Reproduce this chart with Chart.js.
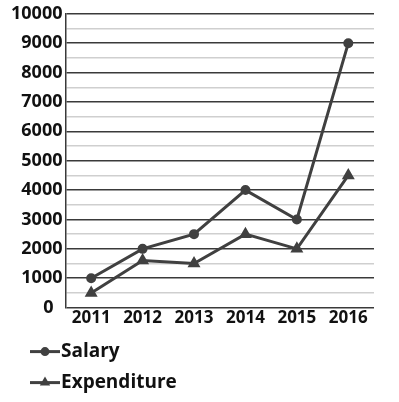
<!DOCTYPE html>
<html>
<head>
<meta charset="utf-8">
<script src="https://cdn.jsdelivr.net/npm/chart.js@4"></script>
<style>
  body { margin: 0; background: #fff; }
  canvas { display: block; }
</style>
</head>
<body>
<canvas id="myChart" width="399" height="402"></canvas>
<script>
'use strict';

// data
const years = ['2011', '2012', '2013', '2014', '2015', '2016'];
const salary = [1000, 2000, 2500, 4000, 3000, 9000];
const expenditure = [500, 1600, 1500, 2500, 2000, 4500];
const seriesNames = ['Salary', 'Expenditure'];

const lineColor = '#404040';
const fontFamily = "'Open Sans', sans-serif";

// legend drawn under the chart, one item per row
const stackedLegend = {
    id: 'stackedLegend',
    afterDraw(chart) {
        const ctx = chart.ctx;
        const top = chart.chartArea.bottom + 44;
        ctx.save();
        chart.data.datasets.forEach((ds, i) => {
            const y = top + i * 31;
            ctx.strokeStyle = ds.borderColor;
            ctx.lineWidth = 3;
            ctx.beginPath();
            ctx.moveTo(30, y);
            ctx.lineTo(60, y);
            ctx.stroke();
            ctx.fillStyle = ds.borderColor;
            Chart.helpers.drawPoint(ctx, {
                pointStyle: ds.pointStyle,
                radius: 3,
                borderWidth: 1,
            }, 45, y);
            ctx.fillStyle = '#111';
            ctx.font = `bold 19px ${fontFamily}`;
            ctx.textAlign = 'left';
            ctx.textBaseline = 'middle';
            ctx.fillText(ds.label, 61, y);
        });
        ctx.restore();
    },
};

const ctx = document.getElementById('myChart').getContext('2d');
const chart = new Chart(ctx, {
    type: 'line',
    data: {
        labels: years,
        datasets: [
            {
                label: seriesNames[0],
                data: salary,
                borderColor: lineColor,
                backgroundColor: lineColor,
                borderWidth: 3,
                pointStyle: 'circle',
                pointRadius: 3.5,
                tension: 0,
            },
            {
                label: seriesNames[1],
                data: expenditure,
                borderColor: lineColor,
                backgroundColor: lineColor,
                borderWidth: 3,
                pointStyle: 'triangle',
                pointRadius: 4.5,
                tension: 0,
            },
        ],
    },
    options: {
        responsive: false,
        animation: false,
        layout: {
            padding: { left: 8, right: 25, top: 4, bottom: 74 },
        },
        plugins: {
            legend: { display: false },
            tooltip: { enabled: false },
        },
        scales: {
            x: {
                offset: true,
                grid: { display: false, drawTicks: false },
                border: { display: false },
                ticks: {
                    color: '#111',
                    padding: 0,
                    maxRotation: 0,
                    font: { family: fontFamily, size: 17, weight: 'bold' },
                },
            },
            y: {
                min: 0,
                max: 10000,
                grid: {
                    drawTicks: false,
                    color: c => (c.tick && c.tick.value % 1000 === 0 ? '#3a3a3a' : '#cfcfcf'),
                    lineWidth: 1.5,
                },
                border: { display: true, color: '#3a3a3a', width: 1.5 },
                ticks: {
                    stepSize: 500,
                    color: '#111',
                    padding: 3,
                    autoSkip: false,
                    font: { family: fontFamily, size: 18, weight: 'bold' },
                    callback: v => {
                        if (v % 1000 !== 0) return '';
                        return v === 0 ? '0\u2002' : String(v);
                    },
                },
            },
        },
    },
    plugins: [stackedLegend],
});
</script>
</body>
</html>
